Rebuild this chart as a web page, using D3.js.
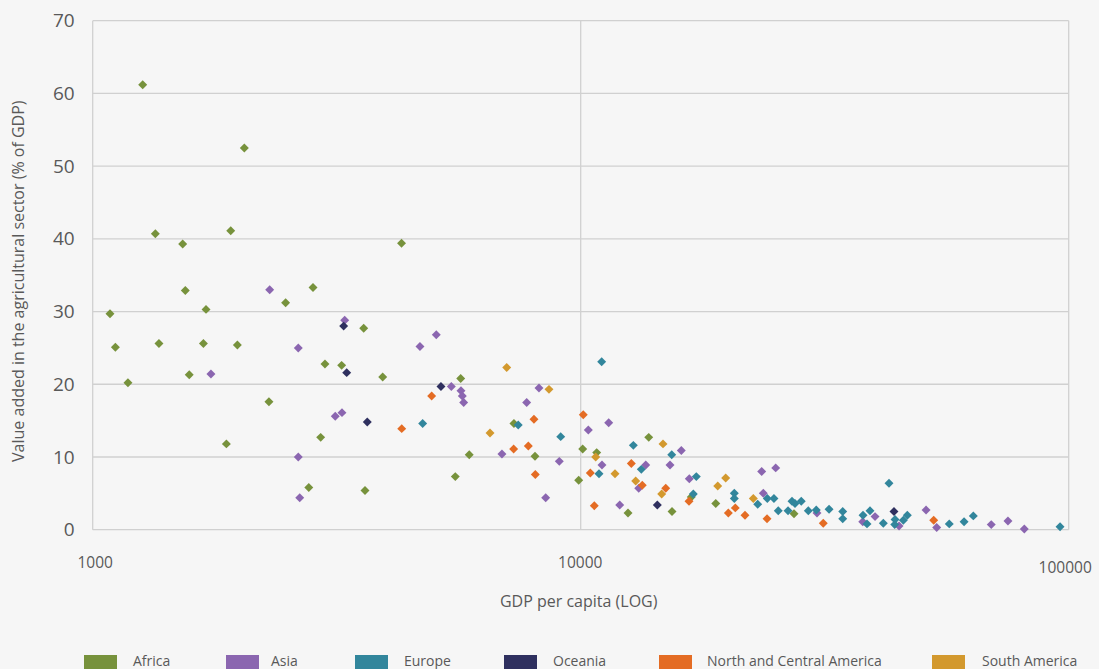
<!DOCTYPE html>
<html>
<head>
<meta charset="utf-8">
<script src="https://cdn.jsdelivr.net/npm/d3@7"></script>
<style>
  html, body { margin: 0; padding: 0; background: #f6f6f6; }
  svg { display: block; font-family: "Open Sans", "Noto Sans", sans-serif; }
</style>
</head>
<body>
<svg id="chart" width="1099" height="669"></svg>
<script>
// ---- data: [GDP per capita, agriculture value added % of GDP] ----
const regions = ["Africa", "Asia", "Europe", "Oceania", "North and Central America", "South America"];
const regionColors = ["#77923c", "#8b66b0", "#32869c", "#2f305f", "#e46c24", "#d3992e"];

const africa = [
  [1266, 61.2], [1085, 29.7], [1113, 25.1], [1181, 20.2], [1344, 40.7], [1367, 25.6],
  [1529, 39.3], [1548, 32.9], [1577, 21.3], [1707, 30.3], [1686, 25.6], [1918, 41.1],
  [2045, 52.5], [1979, 25.4], [1879, 11.8], [2297, 17.6], [2485, 31.2], [2828, 33.3],
  [2992, 22.8], [2932, 12.7], [2772, 5.8], [3237, 22.6], [3592, 27.7], [3929, 21.0],
  [3614, 5.4], [4294, 39.4], [5677, 20.8], [5534, 7.3], [5910, 10.3], [7298, 14.6],
  [8060, 10.1], [10095, 11.1], [9906, 6.8], [10784, 10.6], [13785, 12.7], [12502, 2.3],
  [15386, 2.5], [16852, 4.5], [18913, 3.6], [27361, 2.2]
];
const asia = [
  [1747, 21.4], [2305, 33.0], [2638, 25.0], [2638, 10.0], [2656, 4.4], [3141, 15.6],
  [3242, 16.1], [3284, 28.8], [4684, 25.2], [5059, 26.8], [5431, 19.7], [5684, 19.1],
  [5720, 18.4], [5757, 17.5], [6896, 10.4], [7750, 17.5], [8213, 19.5], [8477, 4.4],
  [9040, 9.4], [10366, 13.7], [11056, 8.9], [11412, 14.7], [12022, 3.4], [13149, 5.7],
  [13592, 8.9], [15241, 8.9], [16075, 10.9], [16694, 7.0], [23490, 8.0], [25096, 8.5],
  [23670, 5.0], [30493, 2.3], [37843, 1.1], [40101, 1.8], [44911, 0.5], [51017, 2.7],
  [53640, 0.3], [69390, 0.7], [75080, 1.2], [81100, 0.1]
];
const europe = [
  [4744, 14.6], [7447, 14.4], [9100, 12.8], [10902, 7.7], [11040, 23.1], [12820, 11.6],
  [13311, 8.3], [15365, 10.3], [17255, 7.3], [17012, 4.9], [20644, 5.0], [20644, 4.3],
  [23053, 3.5], [24120, 4.3], [24890, 4.3], [25400, 2.6], [26600, 2.6], [27100, 3.9],
  [27490, 3.6], [28310, 3.9], [29270, 2.6], [30390, 2.7], [32280, 2.8], [34430, 2.5],
  [34430, 1.5], [42830, 6.4], [37890, 2.0], [39160, 2.6], [38610, 0.8], [41700, 0.9],
  [44070, 1.4], [44000, 0.7], [45830, 1.3], [46700, 2.0], [56920, 0.8], [61040, 1.1],
  [63760, 1.9], [96000, 0.4]
];
const oceania = [
  [3268, 28.0], [3315, 21.6], [3653, 14.8], [5172, 19.7], [14355, 3.4], [43850, 2.5]
];
const northCentralAmerica = [
  [4298, 13.9], [4950, 18.4], [7288, 11.1], [7810, 11.5], [8021, 15.2], [8072, 7.6],
  [10122, 15.8], [10464, 7.8], [10663, 3.3], [12698, 9.1], [13372, 6.1], [14937, 5.7],
  [16670, 3.9], [20070, 2.3], [20740, 3.0], [21710, 2.0], [24090, 1.5], [31410, 0.9],
  [52890, 1.3]
];
const southAmerica = [
  [6519, 13.3], [7053, 22.3], [8610, 19.3], [10733, 10.0], [11757, 7.7], [12963, 6.7],
  [14655, 4.9], [14746, 11.8], [19090, 6.0], [19820, 7.1], [22580, 4.3]
];
const seriesData = [africa, asia, europe, oceania, northCentralAmerica, southAmerica];

const xTicks = [1000, 10000, 100000];
const yTicks = [0, 10, 20, 30, 40, 50, 60, 70];
const xTitle = "GDP per capita (LOG)";
const yTitle = "Value added in the agricultural sector (% of GDP)";

// ---- layout ----
const svg = d3.select("#chart");
const L = 92.7, R = 1068.7, T = 20.7, B = 529.7;
const textColor = "#595959";
const gridColor = "#d0d0d0";
const legendSwatchX = [84, 226, 355, 504, 659, 932];
const legendTextX = [133, 271, 404, 553, 707, 982];

const x = d3.scaleLog().domain([1000, 100000]).range([L, R]);
const y = d3.scaleLinear().domain([0, 70]).range([B, T]);

// horizontal gridlines
svg.append("g").selectAll("line").data(yTicks).join("line")
  .attr("x1", L).attr("x2", R)
  .attr("y1", d => y(d)).attr("y2", d => y(d))
  .attr("stroke", gridColor).attr("stroke-width", 1.3);
// vertical gridlines (decades)
svg.append("g").selectAll("line").data(xTicks).join("line")
  .attr("x1", d => x(d)).attr("x2", d => x(d))
  .attr("y1", T).attr("y2", B)
  .attr("stroke", gridColor).attr("stroke-width", 1.3);

// y axis labels
const yAxis = svg.append("g")
  .attr("transform", `translate(${L},0)`)
  .call(d3.axisLeft(y).tickValues(yTicks).tickSize(0).tickPadding(18));
yAxis.select(".domain").remove();
yAxis.selectAll("text")
  .attr("fill", textColor).style("font-size", "19px")
  .style("font-family", "'Open Sans', sans-serif");

// x axis labels
const xAxis = svg.append("g")
  .attr("transform", `translate(0,${B})`)
  .call(d3.axisBottom(x).tickValues(xTicks).tickFormat(d3.format("d")).tickSize(0).tickPadding(27));
xAxis.select(".domain").remove();
xAxis.selectAll("text")
  .attr("fill", textColor).style("font-size", "15.5px")
  .style("font-family", "'Open Sans', sans-serif")
  .attr("dx", (d, i) => i === 0 ? 2 : (i === xTicks.length - 1 ? -4 : -1))
  .attr("dy", (d, i) => i === xTicks.length - 1 ? "1.05em" : "0.71em");

// axis titles
svg.append("text")
  .attr("x", (L + R) / 2 - 2).attr("y", 607)
  .attr("text-anchor", "middle").attr("fill", textColor)
  .style("font-size", "16px").text(xTitle);
svg.append("text")
  .attr("transform", `translate(24,${(T + B) / 2 + 6}) rotate(-90)`)
  .attr("text-anchor", "middle").attr("fill", textColor)
  .style("font-size", "16px").text(yTitle);

// points
const diamond = d3.symbol().type(d3.symbolSquare).size(40);
seriesData.forEach((pts, i) => {
  svg.append("g").selectAll("path").data(pts).join("path")
    .attr("d", diamond)
    .attr("transform", d => `translate(${x(d[0])},${y(d[1])}) rotate(45)`)
    .attr("fill", regionColors[i]);
});

// legend
const legend = svg.append("g");
regions.forEach((name, i) => {
  legend.append("rect")
    .attr("x", legendSwatchX[i]).attr("y", 655).attr("width", 33).attr("height", 16)
    .attr("fill", regionColors[i]);
  legend.append("text")
    .attr("x", legendTextX[i]).attr("y", 666)
    .attr("fill", textColor).style("font-size", "14px").text(name);
});
</script>
</body>
</html>
